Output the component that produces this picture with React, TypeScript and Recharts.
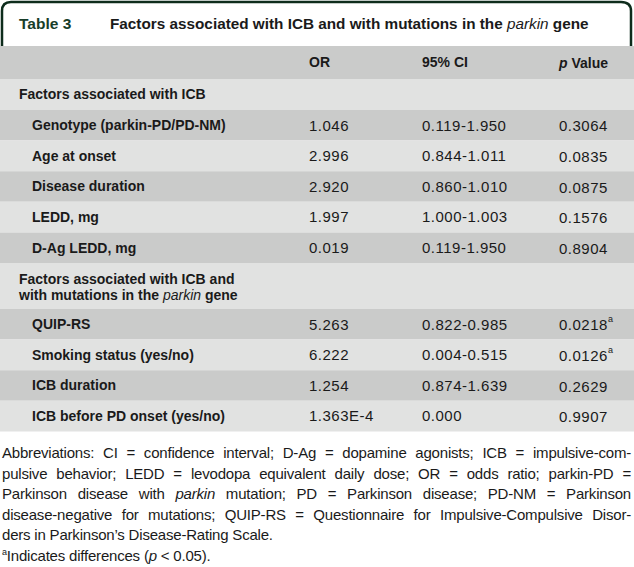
import React from 'react';
import { Surface, Layer, Rectangle, Text } from 'recharts';

const tableNumber = 'Table 3';
const titleParts = ['Factors associated with ICB and with mutations in the ', 'parkin', ' gene'];
const columnHeaders = ['OR', '95% CI', 'Value'];

const groupLabels = ['Factors associated with ICB', 'Factors associated with ICB and'];
const groupSecondLine = ['', 'with mutations in the '];

const factors = [
  'Genotype (parkin-PD/PD-NM)',
  'Age at onset',
  'Disease duration',
  'LEDD, mg',
  'D-Ag LEDD, mg',
  'QUIP-RS',
  'Smoking status (yes/no)',
  'ICB duration',
  'ICB before PD onset (yes/no)',
];
const factorGroup = [0, 0, 0, 0, 0, 1, 1, 1, 1];
const oddsRatios = ['1.046', '2.996', '2.920', '1.997', '0.019', '5.263', '6.222', '1.254', '1.363E-4'];
const confIntervals = [
  '0.119-1.950',
  '0.844-1.011',
  '0.860-1.010',
  '1.000-1.003',
  '0.119-1.950',
  '0.822-0.985',
  '0.004-0.515',
  '0.874-1.639',
  '0.000',
];
const pValues = ['0.3064', '0.0835', '0.0875', '0.1576', '0.8904', '0.0218', '0.0126', '0.2629', '0.9907'];
const significant = [false, false, false, false, false, true, true, false, false];

const footnoteLines = [
  'Abbreviations: CI = confidence interval; D-Ag = dopamine agonists; ICB = impulsive-com-',
  'pulsive behavior; LEDD = levodopa equivalent daily dose; OR = odds ratio; parkin-PD =',
  'Parkinson disease with |parkin| mutation; PD = Parkinson disease; PD-NM = Parkinson',
  'disease-negative for mutations; QUIP-RS = Questionnaire for Impulsive-Compulsive Disor-',
  'ders in Parkinson\u2019s Disease-Rating Scale.',
];
const sigNote = ['Indicates differences (', 'p', ' < 0.05).'];

const W = 634;
const H = 567;
const FONT = '"Liberation Sans", Arial, sans-serif';
const INK = '#1a1a1a';
const DARK = '#cacbca';
const LIGHT = '#e1e2e1';
const GREEN = '#0e2c1c';

const COL_LABEL = 19;
const COL_INDENT = 32;
const COL_OR = 309;
const COL_CI = 422;
const COL_P = 559;

type Row =
  | { kind: 'header'; y: number; h: number }
  | { kind: 'group'; y: number; h: number; g: number }
  | { kind: 'data'; y: number; h: number; i: number };

function buildRows(): Row[] {
  const rows: Row[] = [];
  let y = 46;
  rows.push({ kind: 'header', y, h: 33 });
  y += 33;
  [0, 1].forEach((g) => {
    const gh = groupSecondLine[g] ? 46 : 31;
    rows.push({ kind: 'group', y, h: gh, g });
    y += gh;
    factors.forEach((_, i) => {
      if (factorGroup[i] !== g) return;
      rows.push({ kind: 'data', y, h: 30.6, i });
      y += 30.6;
    });
  });
  return rows;
}

function Cell({ x, y, children, bold }: { x: number; y: number; children: string; bold?: boolean }) {
  return (
    <Text
      x={x}
      y={y}
      verticalAnchor="middle"
      fontFamily={FONT}
      fontSize={bold ? 14 : 15}
      fontWeight={bold ? 700 : 400}
      letterSpacing={bold ? 0 : 0.5}
      fill={INK}
    >
      {children}
    </Text>
  );
}

export default function App() {
  const rows = buildRows();

  return (
    <div style={{ position: 'absolute', left: 0, top: 0, width: W, height: H, background: '#fff' }}>
      <Surface width={W} height={H}>
        <Layer>
          <path
            d="M2 47 L2 11 Q2 2 11 2 L621 2 Q631 2 631 11 L631 47"
            fill="none"
            stroke={GREEN}
            strokeWidth={2.5}
          />
          <Text x={19} y={23} verticalAnchor="middle" fontFamily={FONT} fontSize={15.5} fontWeight={700} fill="#173d29">
            {tableNumber}
          </Text>
          <text x={110} y={23} dominantBaseline="central" fontFamily={FONT} fontSize={15.3} fontWeight={700} fill={INK}>
            <tspan>{titleParts[0]}</tspan>
            <tspan fontStyle="italic" fontWeight={400}>{titleParts[1]}</tspan>
            <tspan>{titleParts[2]}</tspan>
          </text>
        </Layer>

        {rows.map((r, k) => {
          const fill = k % 2 === 0 ? DARK : LIGHT;
          const cy = r.y + r.h / 2;
          if (r.kind === 'header') {
            return (
              <Layer key={k}>
                <Rectangle x={0} y={r.y} width={W} height={r.h} fill={fill} />
                <Cell x={COL_OR} y={cy} bold>{columnHeaders[0]}</Cell>
                <Cell x={COL_CI} y={cy} bold>{columnHeaders[1]}</Cell>
                <text x={COL_P} y={cy} dominantBaseline="central" fontFamily={FONT} fontSize={14} fontWeight={700} fill={INK}>
                  <tspan fontStyle="italic">p</tspan>
                  <tspan> {columnHeaders[2]}</tspan>
                </text>
              </Layer>
            );
          }
          if (r.kind === 'group') {
            const two = !!groupSecondLine[r.g];
            return (
              <Layer key={k}>
                <Rectangle x={0} y={r.y} width={W} height={r.h} fill={fill} />
                {two ? (
                  <>
                    <Cell x={COL_LABEL} y={r.y + 16} bold>{groupLabels[r.g]}</Cell>
                    <text x={COL_LABEL} y={r.y + 32} dominantBaseline="central" fontFamily={FONT} fontSize={14} fontWeight={700} fill={INK}>
                      <tspan>{groupSecondLine[r.g]}</tspan>
                      <tspan fontStyle="italic" fontWeight={400}>{titleParts[1]}</tspan>
                      <tspan>{titleParts[2]}</tspan>
                    </text>
                  </>
                ) : (
                  <Cell x={COL_LABEL} y={cy} bold>{groupLabels[r.g]}</Cell>
                )}
              </Layer>
            );
          }
          const i = r.i;
          return (
            <Layer key={k}>
              <Rectangle x={0} y={r.y} width={W} height={r.h} fill={fill} />
              <Cell x={COL_INDENT} y={cy} bold>{factors[i]}</Cell>
              <Cell x={COL_OR} y={cy}>{oddsRatios[i]}</Cell>
              <Cell x={COL_CI} y={cy}>{confIntervals[i]}</Cell>
              <text x={COL_P} y={cy} dominantBaseline="central" fontFamily={FONT} fontSize={15} letterSpacing={0.5} fill={INK}>
                <tspan>{pValues[i]}</tspan>
                {significant[i] && (
                  <tspan fontSize={9} dy={-5}>a</tspan>
                )}
              </text>
            </Layer>
          );
        })}
      </Surface>

      <div
        style={{
          position: 'absolute',
          left: 2,
          top: 443,
          width: 629,
          fontFamily: FONT,
          fontSize: 15,
          letterSpacing: '-0.2px',
          lineHeight: '20.6px',
          color: INK,
        }}
      >
        {footnoteLines.map((line, i) => {
          const parts = line.split('|');
          const justify = i < footnoteLines.length - 1;
          return (
            <div key={i} style={{ textAlign: justify ? 'justify' : 'left', textAlignLast: justify ? 'justify' : 'left' }}>
              {parts.map((p, j) => (j % 2 === 1 ? <i key={j}>{p}</i> : <span key={j}>{p}</span>))}
            </div>
          );
        })}
        <div style={{ height: 20.6 }}>
          <sup style={{ fontSize: 9, lineHeight: 0 }}>a</sup>
          {sigNote[0]}
          <i>{sigNote[1]}</i>
          {sigNote[2]}
        </div>
      </div>
    </div>
  );
}
